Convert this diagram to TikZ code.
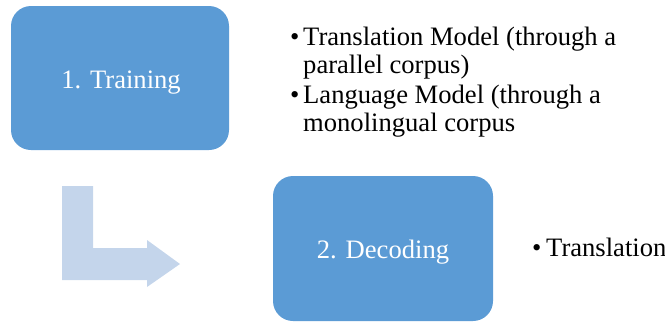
\documentclass[tikz,border=0pt]{standalone}
\usepackage{fontspec}
\setmainfont{Liberation Serif}
\definecolor{stepblue}{HTML}{5B9BD5}
\definecolor{arrowtint}{HTML}{C4D5EB}
\begin{document}
\begin{tikzpicture}[x=1pt,y=-1pt,
  stagebox/.style={rectangle, rounded corners=20pt, fill=stepblue, draw=none, inner sep=0pt},
  stagelabel/.style={anchor=base, inner sep=0pt, text=white, font=\fontsize{26.6}{30}\selectfont},
  itemtext/.style={anchor=base west, inner sep=0pt, font=\fontsize{26.6}{30}\selectfont},
  bulletmark/.style={anchor=base west, inner sep=0pt, font=\fontsize{26.6}{30}\selectfont}]
\useasboundingbox (0,0) rectangle (665,322);

% stage boxes
\node[stagebox, minimum width=218pt, minimum height=144pt] (train) at (120,78) {};
\node[stagelabel] (trainlbl) at (121,88) {1. Training};
\node[stagebox, minimum width=220pt, minimum height=145pt] (decode) at (383,248.5) {};
\node[stagelabel] (decodelbl) at (383,258) {2. Decoding};

% bent arrow leading from training to decoding
\fill[arrowtint] (62,186) -- (93,186) -- (93,248) -- (147,248) -- (147,240)
  -- (180,264) -- (147,287) -- (147,280) -- (62,280) -- cycle;

% training outputs
\node[bulletmark] (b1) at (290,45) {•};
\node[itemtext] (t1a) at (303,45) {Translation Model (through a};
\node[itemtext] (t1b) at (303,73) {parallel corpus)};
\node[bulletmark] (b2) at (290,103) {•};
\node[itemtext] (t2a) at (303,103) {Language Model (through a};
\node[itemtext] (t2b) at (303,131) {monolingual corpus};

% decoding output
\node[bulletmark] (b3) at (532,256) {•};
\node[itemtext] (t3) at (546,256) {Translation};
\end{tikzpicture}
\end{document}
